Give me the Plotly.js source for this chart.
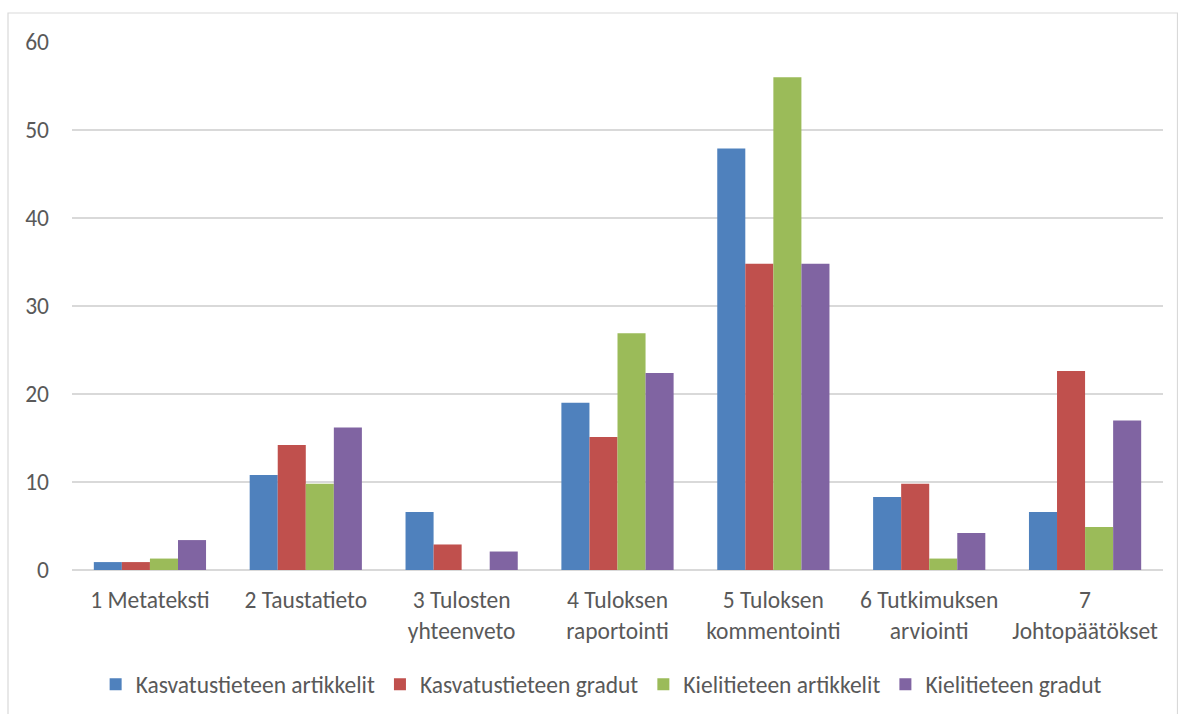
<!DOCTYPE html>
<html>
<head>
<meta charset="utf-8">
<script src="https://cdn.plot.ly/plotly-3.0.1.min.js"></script>
<style>html,body{margin:0;padding:0;background:#fff;}#chart{width:1178px;height:714px;}</style>
</head>
<body>
<div id="chart"></div>
<script>
const categories = ["1 Metateksti", "2 Taustatieto", "3 Tulosten<br>yhteenveto", "4 Tuloksen<br>raportointi", "5 Tuloksen<br>kommentointi", "6 Tutkimuksen<br>arviointi", "7<br>Johtopäätökset"];
const seriesNames = ["Kasvatustieteen artikkelit", "Kasvatustieteen gradut", "Kielitieteen artikkelit", "Kielitieteen gradut"];
const kasvArtikkelit = [0.9, 10.8, 6.6, 19.0, 47.9, 8.3, 6.6];
const kasvGradut = [0.9, 14.2, 2.9, 15.1, 34.8, 9.8, 22.6];
const kieliArtikkelit = [1.3, 9.8, 0, 26.9, 56.0, 1.3, 4.9];
const kieliGradut = [3.4, 16.2, 2.1, 22.4, 34.8, 4.2, 17.0];
const yTicks = [0, 10, 20, 30, 40, 50, 60];

const colors = ["#4f81bd", "#c0504d", "#9bbb59", "#8064a2"];
const values = [kasvArtikkelit, kasvGradut, kieliArtikkelit, kieliGradut];
const FONT = "Carlito, Lato, sans-serif";
const FS = 23.5;

const traces = values.map((v, i) => ({
  type: "bar",
  name: seriesNames[i],
  x: categories,
  y: v,
  marker: {color: colors[i], line: {width: 0}},
  hoverinfo: "y"
}));

const L = 72, R = 15, T = 42, B = 144, W = 1178, H = 714;
const pw = W - L - R, ph = H - T - B;
const layout = {
  width: W, height: H,
  margin: {l: L, r: R, t: T, b: B, pad: 0, autoexpand: false},
  paper_bgcolor: "#ffffff", plot_bgcolor: "#ffffff",
  barmode: "group", bargap: 0.28, bargroupgap: 0,
  font: {family: FONT, size: FS, color: "#595959"},
  xaxis: {
    tickmode: "array", tickvals: categories, ticktext: categories,
    showgrid: false, showline: false, zeroline: false,
    ticks: "outside", ticklen: 9, tickcolor: "rgba(0,0,0,0)",
    tickfont: {family: FONT, size: FS, color: "#595959"}, automargin: false
  },
  yaxis: {
    range: [0, 60], tickmode: "array", tickvals: yTicks, ticktext: yTicks.map(String),
    showgrid: true, gridcolor: "#d9d9d9", gridwidth: 1.5,
    zeroline: true, zerolinecolor: "#d9d9d9", zerolinewidth: 1.5,
    showline: false, ticks: "", ticklabelstandoff: 22,
    tickfont: {family: FONT, size: FS, color: "#595959"}, automargin: false
  },
  showlegend: true,
  legend: {
    orientation: "h", x: 0.485, xanchor: "center", y: -0.175, yanchor: "top",
    font: {family: FONT, size: FS, color: "#595959"},
    traceorder: "normal", itemclick: false, itemwidth: 30, tracegroupgap: 0
  },
  shapes: [{
    type: "rect", xref: "paper", yref: "paper",
    x0: (8 - L) / pw, x1: (1177.5 - L) / pw,
    y0: -(730 - (H - B)) / ph, y1: ((H - B) - 13) / ph,
    line: {color: "#d9d9d9", width: 1.2}, fillcolor: "rgba(0,0,0,0)", layer: "below"
  }]
};

Plotly.newPlot("chart", traces, layout, {displayModeBar: false, staticPlot: true});
</script>
</body>
</html>
